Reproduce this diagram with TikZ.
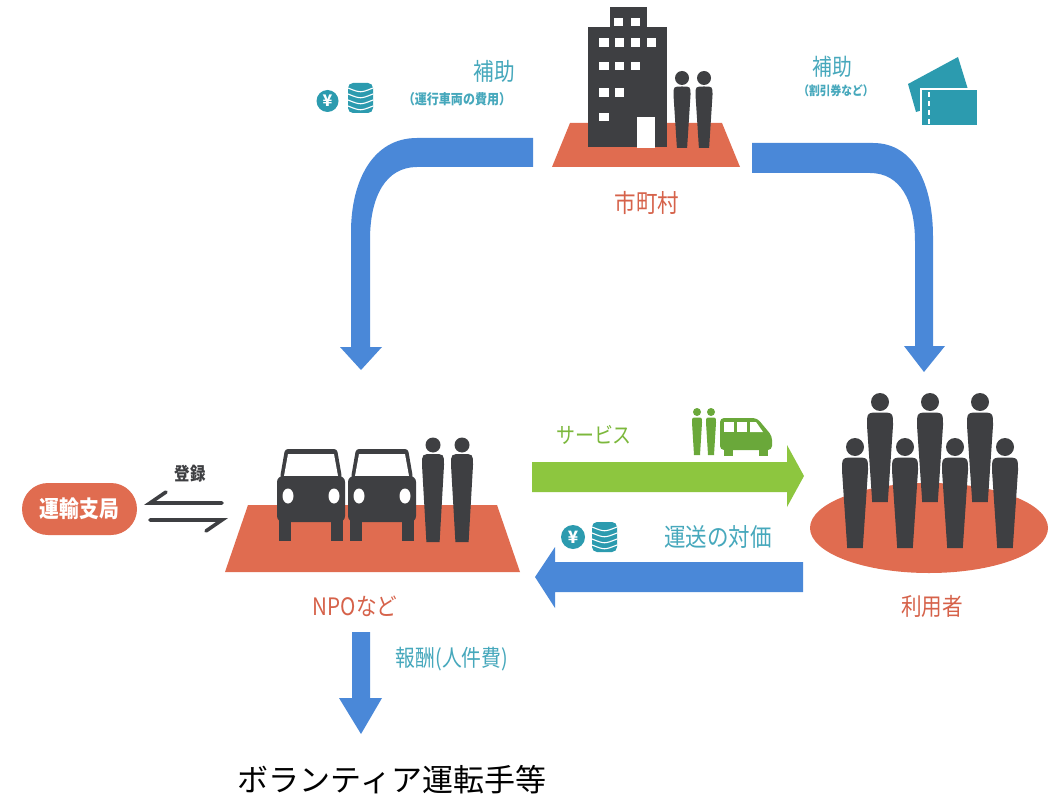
\documentclass[tikz,border=0pt]{standalone}
\usepackage{fontspec}
\newfontfamily\jp{Noto Sans CJK JP}
\newfontfamily\jpn[FakeStretch=0.86]{Noto Sans CJK JP}
\usetikzlibrary{calc}
\definecolor{plat}{RGB}{224,108,80}
\definecolor{plattext}{RGB}{214,98,74}
\definecolor{dark}{RGB}{62,63,66}
\definecolor{flowblue}{RGB}{74,136,216}
\definecolor{flowgreen}{RGB}{141,198,63}
\definecolor{greentext}{RGB}{124,184,60}
\definecolor{greenicon}{RGB}{106,168,58}
\definecolor{tealtext}{RGB}{70,168,188}
\definecolor{tealicon}{RGB}{44,155,175}
\newcommand\fs[1]{\fontsize{#1}{#1}\selectfont}
% standing figure: x, head centre y, head radius, body width, foot y
\newcommand\drawperson[5]{%
  \fill (#1,#2) circle[radius=#3];
  \pgfmathsetmacro\prsTop{#2+#3+1.5}
  \pgfmathsetmacro\prsHalf{#4/2}
  \pgfmathsetmacro\prsFoot{#4*0.3}
  \fill ({#1-\prsHalf},{\prsTop+\prsHalf}) .. controls ({#1-\prsHalf},\prsTop) .. (#1,\prsTop)
        .. controls ({#1+\prsHalf},\prsTop) .. ({#1+\prsHalf},{\prsTop+\prsHalf})
        -- ({#1+\prsFoot},#5) -- ({#1-\prsFoot},#5) -- cycle;
}
% front view of a car, left edge x
\newcommand\drawcar[1]{%
  \fill[dark, rounded corners=3] (#1+3,478) -- (#1+8,449) -- (#1+60,449) -- (#1+65,478) -- cycle;
  \fill[white] (#1+11,454) -- (#1+57,454) -- (#1+61,476) -- (#1+7,476) -- cycle;
  \fill[dark, rounded corners=6] (#1,476) rectangle (#1+68,522);
  \fill[dark] (#1+2,515) rectangle (#1+14,541);
  \fill[dark] (#1+54,515) rectangle (#1+66,541);
  \fill[white] (#1+11,496) ellipse[x radius=5.5, y radius=7.5];
  \fill[white] (#1+57,496) ellipse[x radius=5.5, y radius=7.5];
}
% stack of coins: left x, top y
\newcommand\drawcoins[2]{%
  \fill[tealicon, rounded corners=5] (#1,#2) rectangle (#1+25,#2+30);
  \foreach \k in {7,13,19,25}{
    \draw[white, line width=1.1] (#1,#2+\k-2) .. controls (#1+12.5,#2+\k+3) .. (#1+25,#2+\k-2);
  }
}
\tikzset{
  lbl/.style={inner sep=0pt, font=\jpn},
  platlabel/.style={lbl, text=plattext},
  teallabel/.style={lbl, text=tealtext},
  regline/.style={draw=dark, line width=3.6, line cap=round},
}
\begin{document}
\begin{tikzpicture}[x=1pt,y=-1pt]
\useasboundingbox[fill=white] (0,0) rectangle (1056,799);

% ---------- municipality ----------
\fill[plat] (570,123) -- (722,123) -- (740,167) -- (552,167) -- cycle;
\fill[dark] (610,7) rectangle (647,27);
\fill[dark] (588,27) rectangle (667,147);
\fill[white] (637,117) rectangle (655,148);
\foreach \wx/\wy in {614/18, 630.7/18,
  599.3/38.3, 615/38.3, 630.7/38.3, 646.7/38.3,
  599.3/61.7, 615/61.7, 630.7/61.7,
  599.3/88.3, 615/88.3,
  599.3/113}{
  \fill[white] (\wx,\wy) rectangle ++(9.3,8.4);
}
\begin{scope}[dark]
  \drawperson{682}{78}{7}{17}{148}
  \drawperson{704}{78}{7}{17}{148}
\end{scope}
\node[platlabel, font=\jpn\fs{25}] (city) at (647,203) {市町村};

% ---------- subsidy to operators (left) ----------
\coordinate (subL) at (533,152);
\fill[flowblue] (533,138) -- (417,138) .. controls (372,138) and (351,182) .. (351,232)
  -- (351,347) -- (340,347) -- (361,370) coordinate (subLtip) -- (382,347) -- (370,347)
  -- (370,240) .. controls (370,196) and (386,167) .. (417,167) -- (533,167) -- cycle;
\node[teallabel, font=\jpn\fs{24}] (subLtitle) at (494,71) {補助};
\node[teallabel, font=\jpn\bfseries\fs{14}] (subLnote) at (457,99) {（運行車両の費用）};
\fill[tealicon] (327.5,101) circle[radius=11];
\node[inner sep=0pt, text=white, font=\jp\bfseries\fs{16}] (yenA) at (327.5,101) {¥};
\drawcoins{348}{83}

% ---------- subsidy to users (right) ----------
\coordinate (subR) at (752,158);
\fill[flowblue] (752,143) -- (873,143) .. controls (915,143) and (933,186) .. (933,237)
  -- (933,346) -- (945,346) -- (924,372) coordinate (subRtip) -- (904,346) -- (915,346)
  -- (915,242) .. controls (915,200) and (900,173) .. (870,173) -- (752,173) -- cycle;
\node[teallabel, font=\jpn\fs{23}] (subRtitle) at (832,67) {補助};
\node[teallabel, font=\jpn\bfseries\fs{12.5}] (subRnote) at (836,91) {（割引券など）};
% coupon tickets
\fill[tealicon] (908,84) -- (958,57) -- (970,96) -- (916,112) -- cycle;
\filldraw[fill=tealicon, draw=white, line width=1.5] (921,89) rectangle (978,126);
\draw[white, line width=1.6, dash pattern=on 5 off 4] (929,92) -- (929,124);

% ---------- NPO ----------
\fill[plat] (248,505) -- (497,505) -- (520,572) -- (225,572) -- cycle;
\drawcar{277}
\drawcar{348}
\begin{scope}[dark]
  \drawperson{433}{445}{7.5}{22}{542}
  \drawperson{462}{445}{7.5}{22}{542}
\end{scope}
\node[platlabel, font=\jpn\fs{24}] (npo) at (355,606) {NPOなど};

% ---------- transport bureau ----------
\node[fill=plat, rounded corners=26, minimum width=115, minimum height=52, inner sep=0pt,
      text=white, font=\jpn\bfseries\fs{23}] (bureau) at (79.5,509) {運輸支局};
\node[lbl, text=dark, font=\jpn\bfseries\fs{18}] (reg) at (190,474) {登録};
\coordinate (regTL) at (150,503);
\coordinate (regTR) at (222,503);
\coordinate (regBL) at (150,520);
\coordinate (regBR) at (222,520);
\draw[regline] (regTR) -- (regTL) -- ++(16,-11);
\draw[regline] (regBL) -- (regBR) -- ++(-16,11);

% ---------- users ----------
\fill[plat] (929,528) ellipse[x radius=119, y radius=45];
\begin{scope}[dark]
  \drawperson{880}{402}{9}{26}{502}
  \drawperson{930}{402}{9}{26}{502}
  \drawperson{980}{402}{9}{26}{502}
  \drawperson{855}{447}{9}{26}{548}
  \drawperson{905}{447}{9}{26}{548}
  \drawperson{955}{447}{9}{26}{548}
  \drawperson{1005}{447}{9}{26}{548}
\end{scope}
\node[platlabel, font=\jpn\fs{24}] (users) at (932,606) {利用者};

% ---------- service ----------
\fill[flowgreen] (532,462) -- (787,462) -- (787,445) -- (804,476) coordinate (servTip)
  -- (787,507) -- (787,492) -- (532,492) -- cycle;
\node[lbl, text=greentext, font=\jpn\fs{22}] (service) at (594,435) {サービス};
\begin{scope}[greenicon]
  \drawperson{697}{412}{4}{10}{455}
  \drawperson{711}{412}{4}{10}{455}
  \fill[rounded corners=4] (720,450) -- (720,418) -- (757,418) -- (772,436) -- (772,450) -- cycle;
  \fill (724,447) rectangle (733,456);
  \fill (759,447) rectangle (768,456);
\end{scope}
\fill[white] (724,422) rectangle (734,432);
\fill[white] (737,422) rectangle (747,432);
\fill[white] (750,422) -- (756,422) -- (763,432) -- (750,432) -- cycle;

% ---------- fare ----------
\fill[flowblue] (803,562) -- (555,562) -- (555,547) -- (535,577) coordinate (fareTip)
  -- (555,608) -- (555,592) -- (803,592) -- cycle;
\node[teallabel, font=\jpn\fs{25}] (fare) at (718,537) {運送の対価};
\fill[tealicon] (573,537) circle[radius=12];
\node[inner sep=0pt, text=white, font=\jp\bfseries\fs{17}] (yenB) at (573,537) {¥};
\drawcoins{592}{522}

% ---------- remuneration ----------
\fill[flowblue] (352,632) -- (370,632) -- (370,698) -- (382,698) -- (361,734) coordinate (payTip)
  -- (339,698) -- (352,698) -- cycle;
\node[teallabel, font=\jpn\fs{23}] (pay) at (452,659) {報酬(人件費)};
\node[inner sep=0pt, font=\jp\fs{31}] (volunteer) at (392,780) {ボランティア運転手等};
\end{tikzpicture}
\end{document}
